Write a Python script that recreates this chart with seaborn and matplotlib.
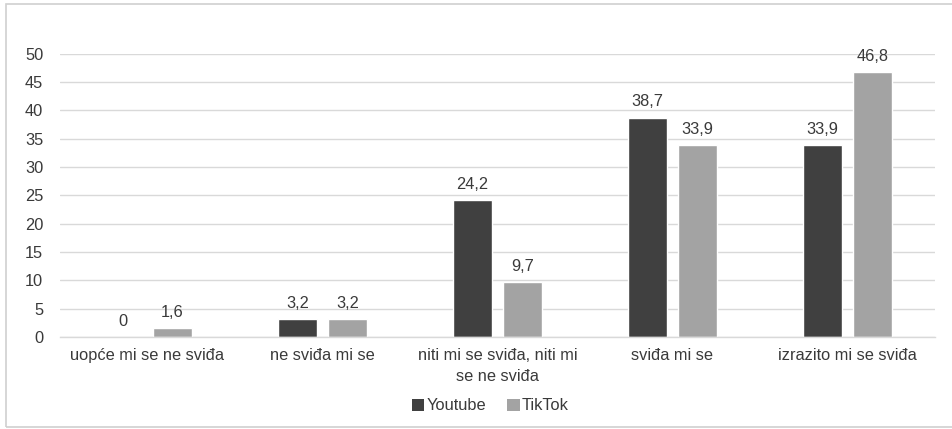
import matplotlib
matplotlib.use("Agg")
import matplotlib.pyplot as plt
import seaborn as sns
import pandas as pd
from matplotlib.patches import Rectangle, Patch

categories = [
    "uopće mi se ne sviđa",
    "ne sviđa mi se",
    "niti mi se sviđa, niti mi\nse ne sviđa",
    "sviđa mi se",
    "izrazito mi se sviđa",
]
youtube = [0, 3.2, 24.2, 38.7, 33.9]
tiktok = [1.6, 3.2, 9.7, 33.9, 46.8]
series_names = ["Youtube", "TikTok"]
colors = ["#404040", "#a3a3a3"]

df = pd.DataFrame({
    "kategorija": categories * 2,
    "platforma": [series_names[0]] * len(categories) + [series_names[1]] * len(categories),
    "postotak": youtube + tiktok,
})

sns.set_theme(style="white")
plt.rcParams["font.family"] = ["Liberation Sans", "DejaVu Sans"]

text_color = "#3a3a3a"
grid_color = "#d9d9d9"
fs = 11.8

fig = plt.figure(figsize=(9.52, 4.29), dpi=100)
ax = fig.add_axes([0.063, 0.2145, 0.919, 0.66])

sns.barplot(
    data=df, x="kategorija", y="postotak", hue="platforma",
    palette=colors, width=0.57, gap=0.23, ax=ax, legend=False,
    saturation=1, errorbar=None,
)

for cont in ax.containers:
    ax.bar_label(cont, labels=[f"{v:g}".replace(".", ",") for v in cont.datavalues],
                 padding=6, fontsize=fs, color=text_color)

ax.set_ylim(0, 50)
ax.set_yticks(range(0, 51, 5))
ax.yaxis.grid(True, color=grid_color, linewidth=1)
ax.set_axisbelow(True)
for side in ["top", "right", "left"]:
    ax.spines[side].set_visible(False)
ax.spines["bottom"].set_color(grid_color)
ax.spines["bottom"].set_linewidth(1)
ax.tick_params(axis="both", length=0, labelsize=fs, colors=text_color, pad=8)
ax.tick_params(axis="y", pad=12)
for lbl in ax.get_xticklabels():
    lbl.set_linespacing(1.5)
ax.set_xlabel("")
ax.set_ylabel("")

handles = [Patch(facecolor=c, edgecolor="none") for c in colors]
fig.legend(handles, series_names, loc="center", bbox_to_anchor=(0.515, 0.054),
           ncol=2, frameon=False, fontsize=fs, handlelength=0.75, handleheight=0.75,
           handletextpad=0.15, columnspacing=1.3, labelcolor=text_color)

fig.patches.append(Rectangle((0.006, 0.005), 1.2, 0.985, transform=fig.transFigure,
                             fill=False, edgecolor="#d0d0d0", linewidth=1.2))

fig.savefig("out.png", dpi=100)
